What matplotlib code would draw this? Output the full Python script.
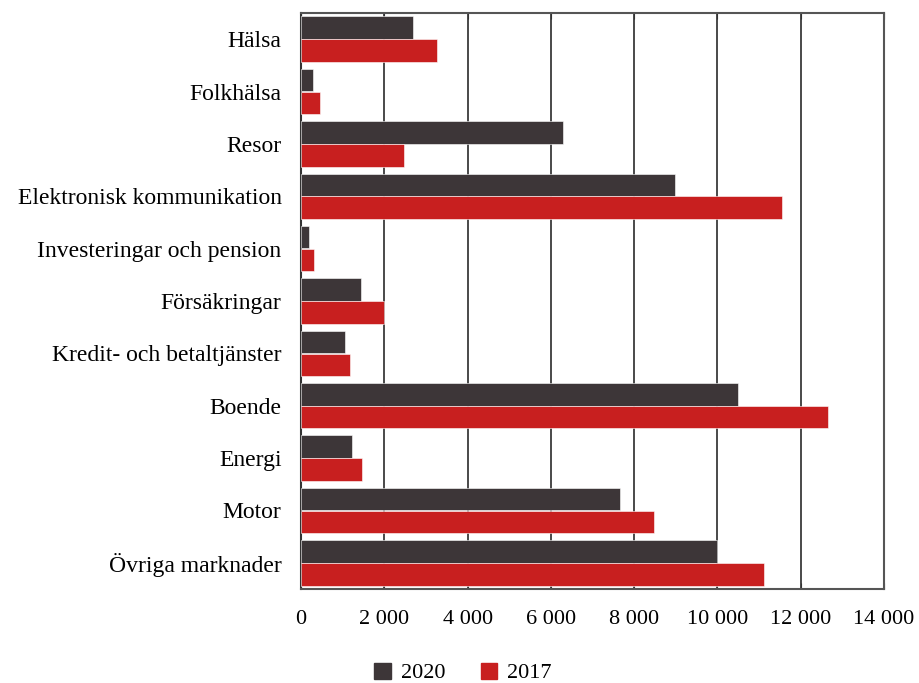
import matplotlib.pyplot as plt
import numpy as np
from matplotlib.patches import Patch

categories = ["Hälsa", "Folkhälsa", "Resor", "Elektronisk kommunikation",
              "Investeringar och pension", "Försäkringar", "Kredit- och betaltjänster",
              "Boende", "Energi", "Motor", "Övriga marknader"]
v2020 = [2700, 300, 6280, 8970, 190, 1440, 1060, 10500, 1220, 7650, 9980]
v2017 = [3260, 450, 2470, 11560, 310, 1990, 1180, 12660, 1460, 8470, 11130]
xticks = [0, 2000, 4000, 6000, 8000, 10000, 12000, 14000]
xticklabels = ["0", "2 000", "4 000", "6 000", "8 000", "10 000", "12 000", "14 000"]

c2020 = "#3d3638"
c2017 = "#c81f1f"

plt.rcParams['font.family'] = ['Liberation Serif', 'DejaVu Serif']
fig = plt.figure(figsize=(9.19, 6.83), dpi=100)
ax = fig.add_axes([301/919, 1-589/683, (884-301)/919, (589-13)/683])

n = len(categories)
y = np.arange(n)
h = 0.43
ax.barh(y - h/2 - 0.004, v2020, height=h, color=c2020, edgecolor='white', linewidth=0.4, zorder=3)
ax.barh(y + h/2 + 0.004, v2017, height=h, color=c2017, edgecolor='white', linewidth=0.4, zorder=3)

ax.set_ylim(n - 0.5, -0.5)
ax.set_xlim(0, 14000)
ax.set_yticks(y)
ax.set_yticklabels(categories, fontsize=17)
ax.set_xticks(xticks)
ax.set_xticklabels(xticklabels, fontsize=16)
ax.tick_params(axis='y', length=0, pad=14)
ax.tick_params(axis='x', direction='in', length=4, pad=15, color='#333333', top=True)
ax.grid(axis='x', color='#3a3a3a', linewidth=1.3, zorder=1)
for s in ax.spines.values():
    s.set_color('#555555')
    s.set_linewidth(1.5)
ax.spines['left'].set_color('#333333')

handles = [Patch(color=c2020, label='2020'), Patch(color=c2017, label='2017')]
fig.legend(handles=handles, loc='center', bbox_to_anchor=(463/919, 1-673/683), ncol=2,
           frameon=False, fontsize=16, handlelength=0.75, handleheight=0.75,
           columnspacing=1.6, handletextpad=0.45)

fig.savefig("out.png", dpi=100)
